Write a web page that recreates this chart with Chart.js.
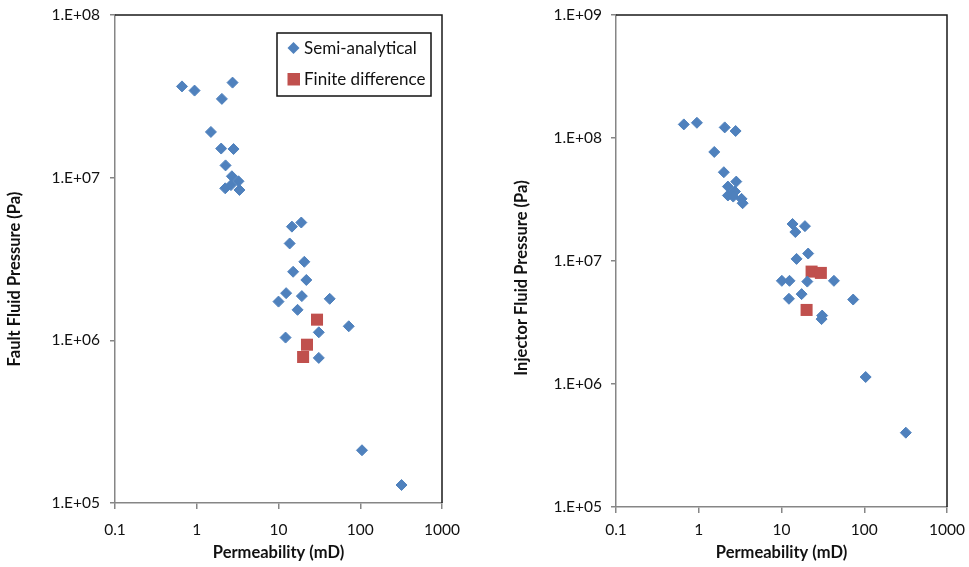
<!DOCTYPE html>
<html>
<head>
<meta charset="utf-8">
<title>Pressure vs permeability</title>
<script src="https://cdn.jsdelivr.net/npm/chart.js@4.4.1/dist/chart.umd.min.js"></script>
<style>
  body { margin: 0; background: #fff; }
  #wrap { position: relative; width: 969px; height: 567px; background: #fff; }
  canvas { position: absolute; top: 0; }
  #faultChart { left: 0; }
  #injectorChart { left: 485px; }
</style>
</head>
<body>
<div id="wrap">
  <canvas id="faultChart" width="485" height="567"></canvas>
  <canvas id="injectorChart" width="484" height="567"></canvas>
</div>
<script>
// Fault pressure (Pa) against permeability (mD)
const faultSemiPerm = [0.66, 0.94, 2.74, 2.03, 1.49, 1.99, 2.82, 2.25, 2.69, 3.24, 2.23, 3.33, 2.62,
    14.6, 19.0, 13.7, 20.7, 15.1, 21.9, 12.4, 10.0, 19.3, 42.3, 17.1, 72.3, 31.1, 12.2, 31.1, 105, 320];
const faultSemiPressure = [3.64e7, 3.43e7, 3.84e7, 3.05e7, 1.91e7, 1.51e7, 1.50e7, 1.19e7, 1.02e7, 9.5e6, 8.6e6, 8.4e6, 9.0e6,
    5.0e6, 5.3e6, 3.94e6, 3.04e6, 2.64e6, 2.35e6, 1.95e6, 1.73e6, 1.87e6, 1.80e6, 1.54e6, 1.22e6, 1.12e6, 1.04e6, 7.8e5, 2.11e5, 1.29e5];
const faultFdPerm = [29.6, 22.3, 20.0];
const faultFdPressure = [1.34e6, 9.4e5, 7.9e5];

// Injector pressure (Pa) against permeability (mD)
const injectorSemiPerm = [0.66, 0.95, 2.06, 2.79, 1.54, 2.01, 2.84, 2.25, 2.74, 2.25, 2.61, 3.29, 3.39,
    13.6, 19.2, 14.7, 21.0, 15.2, 10.1, 12.5, 20.5, 43.0, 12.3, 17.5, 73.5, 31.0, 30.5, 104, 318];
const injectorSemiPressure = [1.29e8, 1.33e8, 1.22e8, 1.14e8, 7.7e7, 5.27e7, 4.42e7, 4.03e7, 3.67e7, 3.41e7, 3.34e7, 3.2e7, 2.95e7,
    2.0e7, 1.92e7, 1.72e7, 1.15e7, 1.04e7, 6.9e6, 6.9e6, 6.8e6, 6.9e6, 4.93e6, 5.38e6, 4.86e6, 3.6e6, 3.37e6, 1.14e6, 4.02e5];
const injectorFdPerm = [23.1, 29.9, 20.1];
const injectorFdPressure = [8.2e6, 8.0e6, 4.0e6];

const permTicks = [0.1, 1, 10, 100, 1000];
const faultPressureTicks = [1e5, 1e6, 1e7, 1e8];
const injectorPressureTicks = [1e5, 1e6, 1e7, 1e8, 1e9];
const seriesNames = ['Semi-analytical', 'Finite difference'];

const blue = '#4F81BD';
const red = '#C0504D';
const axisGray = '#868686';
const tickFont = { family: 'Lato', size: 15.5 };

function toPoints(xs, ys) {
    return xs.map((x, i) => ({ x: x, y: ys[i] }));
}

// 1.E+07 style labels
function sciLabel(v) {
    const e = Math.round(Math.log10(v));
    return '1.E+' + String(e).padStart(2, '0');
}

// top and right edges of the plot area
const frameLines = {
    id: 'frameLines',
    beforeDatasetsDraw(chart) {
        const { ctx, chartArea: a } = chart;
        ctx.save();
        ctx.strokeStyle = '#1a1a1a';
        ctx.lineWidth = 1.5;
        ctx.beginPath();
        ctx.moveTo(a.left, a.top);
        ctx.lineTo(a.right, a.top);
        ctx.lineTo(a.right, a.bottom);
        ctx.stroke();
        ctx.restore();
    }
};

const axisTitles = {
    id: 'axisTitles',
    afterDraw(chart, args, opts) {
        const { ctx, chartArea: a } = chart;
        ctx.save();
        ctx.fillStyle = '#111';
        ctx.font = 'bold 16.5px Lato';
        ctx.textAlign = 'center';
        ctx.textBaseline = 'middle';
        ctx.fillText(opts.xText, (a.left + a.right) / 2, opts.xTitleY);
        ctx.translate(opts.yTitleX, (a.top + a.bottom) / 2 + opts.yShift);
        ctx.rotate(-Math.PI / 2);
        ctx.fillText(opts.yText, 0, 0);
        ctx.restore();
    }
};

// boxed legend inside the top right corner of the plot
const boxLegend = {
    id: 'boxLegend',
    afterDraw(chart, args, opts) {
        if (!opts.show) return;
        const { ctx, chartArea: a } = chart;
        const w = 154, h = 63;
        const x0 = a.right - 11 - w;
        const y0 = a.top + 18;
        ctx.save();
        ctx.fillStyle = '#fff';
        ctx.fillRect(x0, y0, w, h);
        ctx.strokeStyle = '#111';
        ctx.lineWidth = 1.5;
        ctx.strokeRect(x0, y0, w, h);
        ctx.font = '17px Lato';
        ctx.textAlign = 'left';
        ctx.textBaseline = 'middle';
        chart.data.datasets.forEach((ds, i) => {
            const cy = y0 + 15 + i * 31;
            const cx = x0 + 16.5;
            ctx.fillStyle = ds.backgroundColor;
            if (ds.pointStyle === 'rectRot') {
                const r = 6;
                ctx.beginPath();
                ctx.moveTo(cx, cy - r);
                ctx.lineTo(cx + r, cy);
                ctx.lineTo(cx, cy + r);
                ctx.lineTo(cx - r, cy);
                ctx.closePath();
                ctx.fill();
            } else {
                ctx.fillRect(cx - 6, cy - 6, 12.5, 12.5);
            }
            ctx.fillStyle = '#111';
            ctx.fillText(ds.label, x0 + 27, cy + 1);
        });
        ctx.restore();
    }
};

function makeChart(canvasId, semi, fd, cfg) {
    return new Chart(document.getElementById(canvasId), {
        type: 'scatter',
        data: {
            datasets: [
                {
                    label: seriesNames[0],
                    data: semi,
                    pointStyle: 'rectRot',
                    pointRadius: 5.5,
                    borderWidth: 1,
                    backgroundColor: blue,
                    borderColor: blue
                },
                {
                    label: seriesNames[1],
                    data: fd,
                    pointStyle: 'rect',
                    pointRadius: 8.5,
                    borderWidth: 0,
                    backgroundColor: red,
                    borderColor: red
                }
            ]
        },
        options: {
            responsive: false,
            animation: false,
            layout: { padding: { top: 15, right: cfg.padRight, left: 0, bottom: 0 } },
            scales: {
                x: {
                    type: 'logarithmic',
                    min: 0.1,
                    max: 1000,
                    afterBuildTicks: s => { s.ticks = permTicks.map(v => ({ value: v })); },
                    afterFit: s => { s.height = cfg.xHeight; s.paddingLeft = 0; s.paddingRight = 0; },
                    ticks: {
                        callback: v => String(v),
                        font: tickFont,
                        color: '#111',
                        padding: cfg.xPad,
                        maxRotation: 0,
                        autoSkip: false
                    },
                    grid: { drawOnChartArea: false, tickLength: 6, color: axisGray, lineWidth: 1.5 },
                    border: { color: axisGray, width: 1.5 }
                },
                y: {
                    type: 'logarithmic',
                    min: cfg.yTicks[0],
                    max: cfg.yTicks[cfg.yTicks.length - 1],
                    afterBuildTicks: s => { s.ticks = cfg.yTicks.map(v => ({ value: v })); },
                    afterFit: s => { s.width = cfg.yWidth; s.paddingTop = 0; s.paddingBottom = 0; },
                    ticks: {
                        callback: v => sciLabel(v),
                        font: tickFont,
                        color: '#111',
                        padding: cfg.yPad,
                        autoSkip: false
                    },
                    grid: { drawOnChartArea: false, tickLength: 5, color: axisGray, lineWidth: 1.5 },
                    border: { color: axisGray, width: 1.5 }
                }
            },
            plugins: {
                legend: { display: false },
                tooltip: { enabled: false },
                axisTitles: {
                    xText: 'Permeability (mD)',
                    yText: cfg.yText,
                    xTitleY: 553,
                    yTitleX: cfg.yTitleX,
                    yShift: cfg.yShift
                },
                boxLegend: { show: cfg.legend }
            }
        },
        plugins: [frameLines, axisTitles, boxLegend]
    });
}

makeChart('faultChart',
    toPoints(faultSemiPerm, faultSemiPressure),
    toPoints(faultFdPerm, faultFdPressure),
    {
        yTicks: faultPressureTicks,
        yText: 'Fault Fluid Pressure (Pa)',
        yWidth: 115,
        padRight: 43,
        xHeight: 64,
        xPad: 12,
        yPad: 10,
        yTitleX: 15,
        yShift: 20,
        legend: true
    });

makeChart('injectorChart',
    toPoints(injectorSemiPerm, injectorSemiPressure),
    toPoints(injectorFdPerm, injectorFdPressure),
    {
        yTicks: injectorPressureTicks,
        yText: 'Injector Fluid Pressure (Pa)',
        yWidth: 131,
        padRight: 22,
        xHeight: 60,
        xPad: 8,
        yPad: 9,
        yTitleX: 37,
        yShift: 17,
        legend: false
    });
</script>
</body>
</html>
